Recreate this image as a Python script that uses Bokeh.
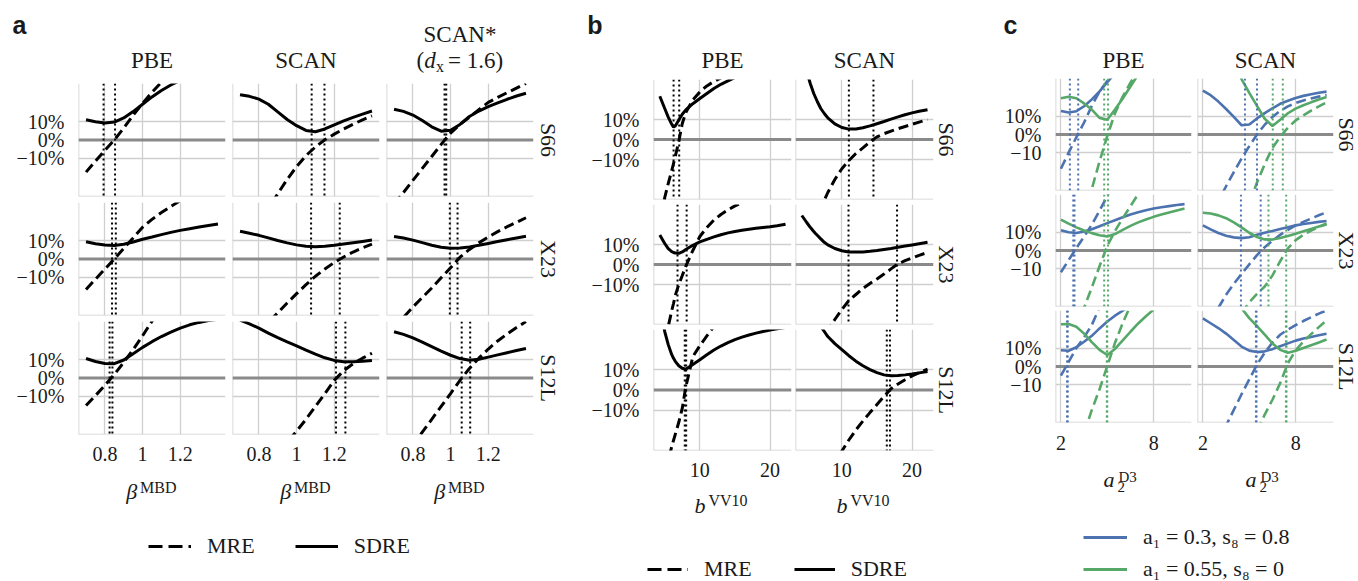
import math
import numpy as np
from bokeh.plotting import figure
from bokeh.layouts import row, column
from bokeh.models import Span, Label, FixedTicker, Range1d, Legend, LegendItem
from bokeh.embed import file_html
from bokeh.resources import INLINE

nan = float("nan")

# ======================= DATA =======================
ROW_NAMES = ["S66", "X23", "S12L"]
Y_TICKS = [-10, 0, 10]
AB_YTICK_LABELS = ["\u221210%", "0%", "10%"]
C_YTICK_LABELS = ["\u221210", "0%", "10%"]
LEGEND_LABELS = ["MRE", "SDRE"]

# ---- panel a : beta^MBD ----
A_TITLES = ["PBE", "SCAN", "SCAN*"]
A_XTICKS = [0.8, 1.0, 1.2]
A_XTICK_LABELS = ["0.8", "1", "1.2"]
A_X = [0.70, 0.75, 0.80, 0.85, 0.90, 0.95, 1.00, 1.05, 1.10, 1.15, 1.20, 1.25, 1.30, 1.35, 1.40]

A_PBE_S66_MRE = [-17.5, -11.5, -5.6, 0.0, 6.5, 13.5, 20.0, 26.0, 31.5, 37.0, 42.0, 47.0, 52.0, 56.5, 61.0]
A_PBE_S66_SDRE = [11.0, 10.0, 9.3, 9.8, 12.0, 15.5, 19.5, 23.5, 27.0, 30.0, 32.5, 35.0, 37.0, 39.0, 41.0]
A_PBE_S66_OPT = [0.793, 0.854]
A_SCAN_S66_MRE = [-62.0, -54.0, -46.0, -37.5, -29.3, -21.5, -14.5, -8.5, -3.8, 0.1, 3.2, 6.0, 8.6, 11.0, 13.2]
A_SCAN_S66_SDRE = [24.7, 23.8, 22.3, 19.5, 15.3, 11.2, 7.8, 5.2, 4.5, 6.0, 8.3, 10.4, 12.3, 14.1, 15.8]
A_SCAN_S66_OPT = [1.080, 1.148]
A_SCANS_S66_MRE = [-35.0, -28.6, -22.0, -15.5, -9.0, -2.4, 3.8, 8.5, 12.5, 16.5, 20.5, 23.2, 25.8, 28.3, 30.8]
A_SCANS_S66_SDRE = [16.8, 15.6, 13.6, 10.6, 7.2, 4.8, 5.3, 8.5, 12.8, 15.8, 18.2, 20.2, 22.2, 24.0, 25.5]
A_SCANS_S66_OPT = [0.968, 0.977]

A_PBE_X23_MRE = [-16.6, -11.0, -5.5, 0.0, 5.8, 11.5, 17.3, 21.6, 25.3, 28.6, 31.8, 35.0, 38.0, 41.0, 44.0]
A_PBE_X23_SDRE = [9.4, 8.3, 7.6, 7.4, 8.0, 9.3, 10.8, 12.0, 13.3, 14.5, 15.6, 16.5, 17.4, 18.3, 19.1]
A_PBE_X23_OPT = [0.838, 0.858]
A_SCAN_X23_MRE = [-52.0, -46.0, -40.0, -34.5, -29.4, -24.0, -18.9, -14.0, -9.4, -5.5, -1.9, 1.1, 3.8, 6.1, 8.1]
A_SCAN_X23_SDRE = [15.1, 14.0, 12.9, 11.5, 10.1, 8.8, 7.7, 7.0, 6.7, 6.9, 7.5, 8.2, 8.9, 9.6, 10.3]
A_SCAN_X23_OPT = [1.077, 1.229]
A_SCANS_X23_MRE = [-37.5, -31.8, -26.2, -21.0, -15.8, -10.2, -4.8, 1.0, 5.2, 8.8, 12.0, 14.9, 17.6, 20.0, 22.5]
A_SCANS_X23_SDRE = [12.3, 11.4, 10.3, 8.9, 7.5, 6.4, 5.8, 6.0, 6.6, 7.5, 8.5, 9.5, 10.5, 11.5, 12.4]
A_SCANS_X23_OPT = [0.996, 1.037]

A_PBE_S12L_MRE = [-15.0, -9.6, -4.0, 2.0, 8.5, 15.5, 23.0, 31.0, 39.0, 47.0, 55.0, 63.0, 71.0, 79.0, 87.0]
A_PBE_S12L_SDRE = [10.6, 9.0, 7.9, 7.8, 9.8, 13.2, 16.7, 19.8, 22.6, 25.0, 27.2, 29.0, 30.3, 31.3, 32.0]
A_PBE_S12L_OPT = [0.825, 0.840]
A_SCAN_S12L_MRE = [-65.0, -59.0, -53.0, -47.0, -41.0, -35.0, -29.0, -22.5, -15.5, -8.5, -1.3, 4.0, 7.8, 10.8, 13.5]
A_SCAN_S12L_SDRE = [31.5, 29.5, 27.2, 24.5, 22.0, 19.7, 17.5, 15.2, 13.0, 11.0, 9.6, 8.9, 8.8, 9.1, 9.6]
A_SCAN_S12L_OPT = [1.209, 1.259]
A_SCANS_S12L_MRE = [-50.5, -43.5, -36.5, -29.5, -22.5, -15.5, -8.5, -1.3, 5.2, 10.8, 15.8, 20.2, 24.0, 27.5, 30.8]
A_SCANS_S12L_SDRE = [25.2, 23.8, 21.9, 19.6, 17.1, 14.6, 12.4, 10.6, 9.7, 10.2, 11.4, 12.6, 13.8, 15.0, 16.1]
A_SCANS_S12L_OPT = [1.059, 1.104]

# ---- panel b : b^VV10 ----
B_TITLES = ["PBE", "SCAN"]
B_XTICKS = [10, 20]
B_XTICK_LABELS = ["10", "20"]
B_X = [4.3, 5.0, 5.5, 6.0, 6.25, 6.5, 7.0, 7.5, 8.0, 9.0, 10.0, 11.0, 12.0, 13.0, 14.0, 15.0, 16.0, 17.0, 18.0, 19.0, 20.0, 21.0, 22.2]

B_PBE_S66_MRE = [-45.0, -29.0, -22.0, -15.5, -12.0, -8.5, -1.0, 8.0, 13.5, 19.8, 23.8, 26.8, 29.0, 30.8, 32.5, 34.0, 35.3, 36.5, 37.6, 38.6, 39.5, 40.3, 41.2]
B_PBE_S66_SDRE = [21.6, 15.5, 11.2, 7.6, 6.2, 6.8, 9.8, 12.6, 14.8, 17.9, 20.5, 23.0, 25.5, 27.6, 29.3, 31.0, 32.5, 34.0, 35.3, 36.5, 37.6, 38.6, 39.6]
B_PBE_S66_OPT = [6.26, 7.06]
B_SCAN_S66_MRE = [-65.0, -55.0, -49.0, -43.0, -40.5, -38.0, -34.0, -30.4, -26.5, -20.0, -14.6, -10.5, -7.0, -4.2, -1.2, 1.3, 2.9, 4.2, 5.4, 6.5, 7.6, 8.7, 9.9]
B_SCAN_S66_SDRE = [45.0, 34.0, 28.0, 23.0, 21.0, 19.0, 15.5, 13.0, 10.8, 7.8, 6.0, 5.2, 5.3, 5.9, 6.8, 7.9, 9.0, 10.2, 11.3, 12.4, 13.3, 14.1, 14.9]
B_SCAN_S66_OPT = [11.0, 14.5]

B_PBE_X23_MRE = [-52.0, -39.0, -31.0, -23.0, -19.5, -15.5, -10.0, -5.5, -0.8, 7.0, 14.0, 18.5, 22.2, 25.0, 27.3, 29.3, 31.0, 32.5, 33.8, 35.0, 36.0, 37.0, 38.0]
B_PBE_X23_SDRE = [14.7, 10.5, 7.9, 6.4, 6.0, 5.7, 5.6, 6.3, 7.5, 9.6, 11.3, 12.6, 13.8, 14.9, 15.8, 16.5, 17.1, 17.6, 18.1, 18.5, 18.9, 19.4, 20.1]
B_PBE_X23_OPT = [6.82, 8.12]
B_SCAN_X23_MRE = [-70.0, -62.0, -56.0, -50.0, -47.5, -45.0, -40.5, -36.5, -33.0, -27.5, -22.5, -18.0, -15.0, -12.0, -9.5, -7.2, -4.8, -2.2, 0.3, 1.9, 3.3, 4.6, 6.0]
B_SCAN_X23_SDRE = [24.5, 21.0, 18.6, 16.5, 15.5, 14.6, 12.8, 11.1, 9.8, 8.0, 6.9, 6.3, 6.2, 6.3, 6.6, 7.0, 7.5, 8.0, 8.6, 9.2, 9.8, 10.4, 11.1]
B_SCAN_X23_OPT = [10.95, 17.86]

B_PBE_S12L_MRE = [-55.0, -42.0, -35.0, -28.0, -25.0, -22.0, -16.0, -9.0, 1.5, 16.5, 22.0, 26.8, 31.5, 35.5, 39.0, 42.0, 45.0, 47.5, 50.0, 52.5, 55.0, 57.0, 59.5]
B_PBE_S12L_SDRE = [42.0, 29.0, 22.5, 17.5, 15.7, 14.2, 12.0, 10.8, 10.3, 12.6, 15.0, 17.5, 19.8, 21.8, 23.5, 25.0, 26.2, 27.3, 28.2, 29.0, 29.7, 30.3, 31.0]
B_PBE_S12L_OPT = [7.85, 8.05]
B_SCAN_S12L_MRE = [-80.0, -70.0, -65.0, -60.0, -57.5, -55.0, -51.0, -47.0, -43.0, -36.5, -30.3, -24.8, -19.8, -15.4, -11.2, -7.2, -3.2, 0.6, 3.0, 5.1, 7.0, 8.6, 10.3]
B_SCAN_S12L_SDRE = [55.0, 47.0, 43.0, 39.0, 37.0, 35.0, 31.5, 29.0, 26.5, 23.0, 20.0, 17.0, 14.3, 12.0, 10.1, 8.6, 7.5, 7.1, 7.2, 7.5, 7.9, 8.5, 9.2]
B_SCAN_S12L_OPT = [16.4, 16.85]

# ---- panel c : a2^D3 (series 1: a1=0.3,s8=0.8 ; series 2: a1=0.55,s8=0) ----
C_TITLES = ["PBE", "SCAN"]
C_XTICKS = [2, 8]
C_XTICK_LABELS = ["2", "8"]
C_SERIES_LABELS = ["a\u2081 = 0.3, s\u2088 = 0.8", "a\u2081 = 0.55, s\u2088 = 0"]
C_X = [2.0, 2.5, 3.0, 3.5, 4.0, 4.5, 5.0, 5.5, 6.0, 6.5, 7.0, 7.5, 8.0, 8.5, 9.0, 9.5, 10.0]

C_PBE_S66_1_MRE = [-18.5, -9.8, -1.5, 6.5, 15.5, 23.3, 29.0, 34.0, nan, nan, nan, nan, nan, nan, nan, nan, nan]
C_PBE_S66_1_SDRE = [12.7, 11.9, 12.6, 15.3, 19.0, 23.3, 28.3, 33.0, nan, nan, nan, nan, nan, nan, nan, nan, nan]
C_PBE_S66_1_OPT = [2.58, 3.12]
C_PBE_S66_2_MRE = [nan, nan, nan, -44.0, -29.5, -14.5, -0.8, 11.5, 20.5, 28.0, 35.0, nan, nan, nan, nan, nan, nan]
C_PBE_S66_2_SDRE = [19.6, 20.4, 19.6, 16.8, 13.5, 9.0, 8.0, 13.5, 19.5, 26.0, 32.5, nan, nan, nan, nan, nan, nan]
C_PBE_S66_2_OPT = [4.80, 5.05]
C_SCAN_S66_1_MRE = [-54.0, -45.0, -36.0, -28.0, -20.3, -13.0, -6.3, 0.0, 5.3, 9.5, 12.8, 15.2, 17.0, 18.4, 19.5, 20.5, 21.4]
C_SCAN_S66_1_SDRE = [23.8, 21.3, 17.8, 13.8, 9.5, 5.0, 5.4, 8.7, 11.6, 14.2, 16.6, 18.3, 19.8, 20.9, 21.8, 22.6, 23.2]
C_SCAN_S66_1_OPT = [4.72, 5.50]
C_SCAN_S66_2_MRE = [nan, nan, nan, nan, nan, nan, -37.0, -26.0, -16.0, -7.2, -1.2, 3.7, 7.6, 10.4, 12.9, 15.2, 17.4]
C_SCAN_S66_2_SDRE = [nan, nan, nan, nan, 40.0, 30.0, 22.5, 15.5, 8.5, 4.6, 8.0, 11.5, 14.0, 15.8, 17.4, 18.9, 20.3]
C_SCAN_S66_2_OPT = [6.52, 7.17]

C_PBE_X23_1_MRE = [-11.8, -5.2, 1.3, 7.5, 14.0, 21.5, 29.5, 37.0, nan, nan, nan, nan, nan, nan, nan, nan, nan]
C_PBE_X23_1_SDRE = [10.9, 9.9, 9.5, 10.3, 11.5, 13.1, 14.8, 16.4, 18.0, 19.5, 20.7, 21.8, 22.7, 23.4, 24.0, 24.6, 25.1]
C_PBE_X23_1_OPT = [2.80, 2.88]
C_PBE_X23_2_MRE = [nan, nan, -42.0, -31.0, -20.0, -8.5, 2.5, 10.5, 17.5, 24.0, 30.5, 37.0, nan, nan, nan, nan, nan]
C_PBE_X23_2_SDRE = [16.7, 14.5, 12.5, 10.8, 9.4, 8.3, 7.6, 8.9, 11.2, 13.3, 15.2, 16.8, 18.2, 19.5, 20.6, 21.7, 22.7]
C_PBE_X23_2_OPT = [4.80, 5.05]
C_SCAN_X23_1_MRE = [nan, -38.0, -31.0, -24.0, -18.0, -12.7, -7.5, -2.5, 1.8, 5.3, 8.5, 11.2, 13.6, 15.5, 17.3, 19.1, 20.7]
C_SCAN_X23_1_SDRE = [13.6, 11.4, 9.5, 8.0, 7.1, 6.7, 7.2, 8.5, 9.6, 10.6, 11.6, 12.6, 13.6, 14.3, 14.9, 15.5, 16.0]
C_SCAN_X23_1_OPT = [4.46, 5.74]
C_SCAN_X23_2_MRE = [nan, nan, nan, nan, nan, -34.0, -28.0, -23.5, -19.5, -13.5, -5.8, 1.2, 5.6, 8.5, 10.8, 12.8, 14.6]
C_SCAN_X23_2_SDRE = [20.4, 20.0, 19.0, 17.5, 15.2, 12.5, 9.6, 7.3, 6.0, 5.9, 6.8, 7.9, 9.1, 10.4, 11.7, 13.0, 14.1]
C_SCAN_X23_2_OPT = [6.24, 7.39]

C_PBE_S12L_1_MRE = [-4.9, 2.5, 10.0, 15.8, 22.5, 32.0, nan, nan, nan, nan, nan, nan, nan, nan, nan, nan, nan]
C_PBE_S12L_1_SDRE = [8.8, 8.5, 10.4, 13.4, 16.6, 20.6, 24.3, 27.5, 30.2, 33.0, nan, nan, nan, nan, nan, nan, nan]
C_PBE_S12L_1_OPT = [2.40, 2.44]
C_PBE_S12L_2_MRE = [nan, nan, nan, -36.0, -23.5, -12.3, 0.2, 12.8, 23.5, 33.0, nan, nan, nan, nan, nan, nan, nan]
C_PBE_S12L_2_SDRE = [22.9, 23.0, 21.5, 17.8, 13.2, 9.0, 6.2, 9.5, 14.1, 18.8, 23.3, 27.2, 30.8, nan, nan, nan, nan]
C_PBE_S12L_2_OPT = [4.97, 5.00]
C_SCAN_S12L_1_MRE = [nan, nan, -41.0, -32.0, -23.5, -15.0, -7.0, 1.0, 7.5, 13.0, 17.2, 20.0, 22.4, 24.6, 26.6, 28.6, 30.3]
C_SCAN_S12L_1_SDRE = [26.0, 23.4, 20.8, 17.8, 14.3, 10.8, 8.6, 7.8, 8.2, 9.4, 11.0, 12.5, 14.0, 15.1, 16.0, 16.9, 17.7]
C_SCAN_S12L_1_OPT = [5.43, 5.47]
C_SCAN_S12L_2_MRE = [nan, nan, nan, nan, nan, nan, nan, -35.0, -26.0, -18.0, -9.0, 1.8, 8.7, 13.5, 17.5, 21.3, 25.0]
C_SCAN_S12L_2_SDRE = [nan, nan, nan, nan, nan, 31.5, 26.2, 21.9, 17.2, 12.5, 9.0, 7.4, 8.5, 10.0, 11.5, 13.0, 14.6]
C_SCAN_S12L_2_OPT = [7.37, 7.41]

# tables built from the named lists (rows x columns)
A_MRE = [[A_PBE_S66_MRE, A_SCAN_S66_MRE, A_SCANS_S66_MRE],
         [A_PBE_X23_MRE, A_SCAN_X23_MRE, A_SCANS_X23_MRE],
         [A_PBE_S12L_MRE, A_SCAN_S12L_MRE, A_SCANS_S12L_MRE]]
A_SDRE = [[A_PBE_S66_SDRE, A_SCAN_S66_SDRE, A_SCANS_S66_SDRE],
          [A_PBE_X23_SDRE, A_SCAN_X23_SDRE, A_SCANS_X23_SDRE],
          [A_PBE_S12L_SDRE, A_SCAN_S12L_SDRE, A_SCANS_S12L_SDRE]]
A_OPT = [[A_PBE_S66_OPT, A_SCAN_S66_OPT, A_SCANS_S66_OPT],
         [A_PBE_X23_OPT, A_SCAN_X23_OPT, A_SCANS_X23_OPT],
         [A_PBE_S12L_OPT, A_SCAN_S12L_OPT, A_SCANS_S12L_OPT]]
B_MRE = [[B_PBE_S66_MRE, B_SCAN_S66_MRE], [B_PBE_X23_MRE, B_SCAN_X23_MRE], [B_PBE_S12L_MRE, B_SCAN_S12L_MRE]]
B_SDRE = [[B_PBE_S66_SDRE, B_SCAN_S66_SDRE], [B_PBE_X23_SDRE, B_SCAN_X23_SDRE], [B_PBE_S12L_SDRE, B_SCAN_S12L_SDRE]]
B_OPT = [[B_PBE_S66_OPT, B_SCAN_S66_OPT], [B_PBE_X23_OPT, B_SCAN_X23_OPT], [B_PBE_S12L_OPT, B_SCAN_S12L_OPT]]
C_DATA = [
    [[(C_PBE_S66_1_MRE, C_PBE_S66_1_SDRE, C_PBE_S66_1_OPT), (C_PBE_S66_2_MRE, C_PBE_S66_2_SDRE, C_PBE_S66_2_OPT)],
     [(C_SCAN_S66_1_MRE, C_SCAN_S66_1_SDRE, C_SCAN_S66_1_OPT), (C_SCAN_S66_2_MRE, C_SCAN_S66_2_SDRE, C_SCAN_S66_2_OPT)]],
    [[(C_PBE_X23_1_MRE, C_PBE_X23_1_SDRE, C_PBE_X23_1_OPT), (C_PBE_X23_2_MRE, C_PBE_X23_2_SDRE, C_PBE_X23_2_OPT)],
     [(C_SCAN_X23_1_MRE, C_SCAN_X23_1_SDRE, C_SCAN_X23_1_OPT), (C_SCAN_X23_2_MRE, C_SCAN_X23_2_SDRE, C_SCAN_X23_2_OPT)]],
    [[(C_PBE_S12L_1_MRE, C_PBE_S12L_1_SDRE, C_PBE_S12L_1_OPT), (C_PBE_S12L_2_MRE, C_PBE_S12L_2_SDRE, C_PBE_S12L_2_OPT)],
     [(C_SCAN_S12L_1_MRE, C_SCAN_S12L_1_SDRE, C_SCAN_S12L_1_OPT), (C_SCAN_S12L_2_MRE, C_SCAN_S12L_2_SDRE, C_SCAN_S12L_2_OPT)]],
]

# ======================= STYLE / GEOMETRY =======================
SERIF = "Liberation Serif"
SANS = "Liberation Sans"
TEXT_COLOR = "#1a1a1a"
GRID_COLOR = "#cfcfcf"
ZERO_COLOR = "#8a8a8a"
C_COLORS = ["#4c72b0", "#55a868"]
DASH = "10 5"
DOT = "2 3"
LEG_DASH = "14 6"

# (left border, frame, right border) / (top border, frame, bottom border)
A_COLW = [(78, 147, 3), (4, 147, 3), (4, 147, 3)]
A_ROWH = [(0, 113, 3), (3, 113, 3), (3, 113, 40)]
A_XR, A_YR = (0.66, 1.44), (-30.8, 30.8)
B_COLW = [(81, 138, 2), (2, 138, 2)]
B_ROWH = [(0, 120, 3), (2, 120, 3), (2, 121, 40)]
B_XR, B_YR = (3.4, 23.05), (-30.0, 30.0)
C_COLW = [(65, 136, 3), (3, 136, 2)]
C_ROWH = [(0, 112, 2), (2, 112, 2), (2, 112, 40)]
C_XR, C_YR = (1.65, 10.45), (-30.3, 30.3)


def make_cell(colw, rowh, xr, yr, xticks):
    bl, fw, br = colw
    bt, fh, bb = rowh
    p = figure(width=bl + fw + br, height=bt + fh + bb,
               x_range=Range1d(*xr), y_range=Range1d(*yr),
               output_backend="svg", toolbar_location=None,
               min_border_left=bl, min_border_right=br,
               min_border_top=bt, min_border_bottom=bb,
               outline_line_color=None, background_fill_color="white",
               border_fill_color="white")
    p.xaxis.visible = False
    p.yaxis.visible = False
    p.xgrid.ticker = FixedTicker(ticks=xticks)
    p.ygrid.ticker = FixedTicker(ticks=[-10, 10])
    p.grid.grid_line_color = GRID_COLOR
    p.grid.grid_line_width = 1.3
    p.add_layout(Span(location=xr[0], dimension="height", line_color=GRID_COLOR,
                      line_width=1.6, level="underlay"))
    p.add_layout(Span(location=yr[0], dimension="width", line_color=GRID_COLOR,
                      line_width=1.6, level="underlay"))
    p.add_layout(Span(location=0, dimension="width", line_color=ZERO_COLOR,
                      line_width=3, level="underlay"))
    return p


def blank_fig(w, h):
    p = figure(width=w, height=h, x_range=Range1d(0, 1), y_range=Range1d(0, 1),
               output_backend="svg", toolbar_location=None,
               min_border_left=0, min_border_right=0, min_border_top=0,
               min_border_bottom=0, outline_line_color=None,
               background_fill_color="white", border_fill_color="white")
    p.axis.visible = False
    p.grid.visible = False
    return p


def add_curves(p, x, mre, sdre, opt, color, lw):
    for v in opt:
        p.add_layout(Span(location=v, dimension="height", line_color=color,
                          line_width=2, line_dash=DOT, level="glyph"))
    p.line(np.array(x, dtype=float), np.array(mre, dtype=float),
           line_color=color, line_width=lw, line_dash=DASH)
    p.line(np.array(x, dtype=float), np.array(sdre, dtype=float),
           line_color=color, line_width=lw)


def style_axis(ax, standoff):
    ax.axis_line_color = None
    ax.major_tick_line_color = None
    ax.minor_tick_line_color = None
    ax.major_tick_in = 0
    ax.major_tick_out = 0
    ax.minor_tick_in = 0
    ax.minor_tick_out = 0
    ax.major_label_standoff = standoff
    ax.major_label_text_font = SERIF
    ax.major_label_text_font_size = "20px"
    ax.major_label_text_color = TEXT_COLOR


def add_yaxis(p, labels, standoff=14):
    ax = p.yaxis[0]
    ax.visible = True
    ax.ticker = FixedTicker(ticks=Y_TICKS)
    ax.major_label_overrides = {t: s for t, s in zip(Y_TICKS, labels)}
    style_axis(ax, standoff)


def add_xaxis(p, ticks, labels, standoff=12):
    ax = p.xaxis[0]
    ax.visible = True
    ax.ticker = FixedTicker(ticks=ticks)
    ax.major_label_overrides = {t: s for t, s in zip(ticks, labels)}
    style_axis(ax, standoff)


def txt(p, x, y, s, size, style="normal", align="left", baseline="middle",
        angle=0.0, font=SERIF):
    p.add_layout(Label(x=x, y=y, x_units="screen", y_units="screen", text=s,
                       text_font=font, text_font_size=size, text_font_style=style,
                       text_align=align, text_baseline=baseline, angle=angle,
                       text_color=TEXT_COLOR))


def add_legend(p, entries, loc, orientation, spacing, glyph_w):
    items = []
    for label, color, dash in entries:
        r = p.line(x=[nan], y=[nan], line_color=color, line_width=3, line_dash=dash)
        items.append(LegendItem(label=label, renderers=[r]))
    leg = Legend(items=items, location=loc, orientation=orientation,
                 glyph_width=glyph_w, glyph_height=20, label_height=20,
                 label_standoff=16, spacing=spacing, padding=0, margin=0,
                 border_line_color=None, background_fill_alpha=0,
                 label_text_font=SERIF, label_text_font_size="22px",
                 label_text_color=TEXT_COLOR)
    p.add_layout(leg)


def row_labels(w, h, xc, ycs):
    p = blank_fig(w, h)
    for name, yc in zip(ROW_NAMES, ycs):
        txt(p, xc, yc, name, "22px", align="center", angle=-math.pi / 2)
    return p


# ======================= PANEL A =======================
rows_a = []
for i in range(3):
    cells = []
    for j in range(3):
        p = make_cell(A_COLW[j], A_ROWH[i], A_XR, A_YR, A_XTICKS)
        add_curves(p, A_X, A_MRE[i][j], A_SDRE[i][j], A_OPT[i][j], "black", 3)
        if j == 0:
            add_yaxis(p, AB_YTICK_LABELS)
        if i == 2:
            add_xaxis(p, A_XTICKS, A_XTICK_LABELS, 12)
        cells.append(p)
    rows_a.append(row(*cells))
A_CENTERS = [151.5, 305.5, 459.5]
head_a = blank_fig(572, 83)
txt(head_a, 12, 58.2, "a", "25px", style="bold", font=SANS)
txt(head_a, A_CENTERS[0], 23.5, A_TITLES[0], "23px", align="center")
txt(head_a, A_CENTERS[1], 23.5, A_TITLES[1], "23px", align="center")
txt(head_a, A_CENTERS[2], 49.5, A_TITLES[2], "23px", align="center")
x0 = A_CENTERS[2] - 43.5
txt(head_a, x0, 23.5, "(", "23px")
txt(head_a, x0 + 7.7, 23.5, "d", "23px", style="italic")
txt(head_a, x0 + 19.5, 17.0, "x", "16px")
txt(head_a, x0 + 31.5, 23.5, "= 1.6)", "23px")
rl_a = row_labels(36, 391, 11.5, [334.5, 215.5, 96.5])
foot_a = blank_fig(572, 107)
for c in A_CENTERS:
    txt(foot_a, c - 25.8, 90.5, "\u03b2", "22px", style="italic")
    txt(foot_a, c - 12, 94.4, "MBD", "16px")
add_legend(foot_a, [(LEGEND_LABELS[0], "black", LEG_DASH),
                    (LEGEND_LABELS[1], "black", "solid")],
           (148, 22.5), "horizontal", 40, 43)
panel_a = column(head_a, row(column(*rows_a), rl_a), foot_a)

# ======================= PANEL B =======================
rows_b = []
for i in range(3):
    cells = []
    for j in range(2):
        p = make_cell(B_COLW[j], B_ROWH[i], B_XR, B_YR, B_XTICKS)
        add_curves(p, B_X, B_MRE[i][j], B_SDRE[i][j], B_OPT[i][j], "black", 3)
        if j == 0:
            add_yaxis(p, AB_YTICK_LABELS)
        if i == 2:
            add_xaxis(p, B_XTICKS, B_XTICK_LABELS, 12)
        cells.append(p)
    rows_b.append(row(*cells))
B_CENTERS = [150, 292]
head_b = blank_fig(418, 79)
txt(head_b, 14.7, 54.2, "b", "25px", style="bold", font=SANS)
for c, t in zip(B_CENTERS, B_TITLES):
    txt(head_b, c, 19.5, t, "23px", align="center")
rl_b = row_labels(55, 411, 10.7, [351, 226, 100.5])
foot_b = blank_fig(418, 91)
for c in B_CENTERS:
    txt(foot_b, c - 28, 75.8, "b", "22px", style="italic")
    txt(foot_b, c - 14, 81.4, "VV10", "16px")
add_legend(foot_b, [(LEGEND_LABELS[0], "black", LEG_DASH),
                    (LEGEND_LABELS[1], "black", "solid")],
           (75, -1), "horizontal", 42, 41)
panel_b = column(head_b, row(column(*rows_b), rl_b), foot_b)

# ======================= PANEL C =======================
rows_c = []
for i in range(3):
    cells = []
    for j in range(2):
        p = make_cell(C_COLW[j], C_ROWH[i], C_XR, C_YR, C_XTICKS)
        for k in range(2):
            mre, sdre, opt = C_DATA[i][j][k]
            add_curves(p, C_X, mre, sdre, opt, C_COLORS[k], 2.6)
        if j == 0:
            add_yaxis(p, C_YTICK_LABELS)
        if i == 2:
            add_xaxis(p, C_XTICKS, C_XTICK_LABELS, 13)
        cells.append(p)
    rows_c.append(row(*cells))
C_CENTERS = [133, 275]
head_c = blank_fig(368, 78)
txt(head_c, 13, 53.2, "c", "25px", style="bold", font=SANS)
for c, t in zip(C_CENTERS, C_TITLES):
    txt(head_c, c, 18.5, t, "23px", align="center")
rl_c = row_labels(23, 384, 11, [328, 212, 96])
foot_c = blank_fig(368, 119)
for c in C_CENTERS:
    txt(foot_c, c - 20, 101.8, "a", "22px", style="italic")
    txt(foot_c, c - 6, 94.4, "2", "15px")
    txt(foot_c, c - 5, 104.4, "D3", "15px")
add_legend(foot_c, [(C_SERIES_LABELS[0], C_COLORS[0], "solid"),
                    (C_SERIES_LABELS[1], C_COLORS[1], "solid")],
           (93, -1), "vertical", 6, 44)
panel_c = column(head_c, row(column(*rows_c), rl_c), foot_c)

layout = row(panel_a, panel_b, panel_c)
open("out.html", "w").write(file_html(layout, INLINE))
